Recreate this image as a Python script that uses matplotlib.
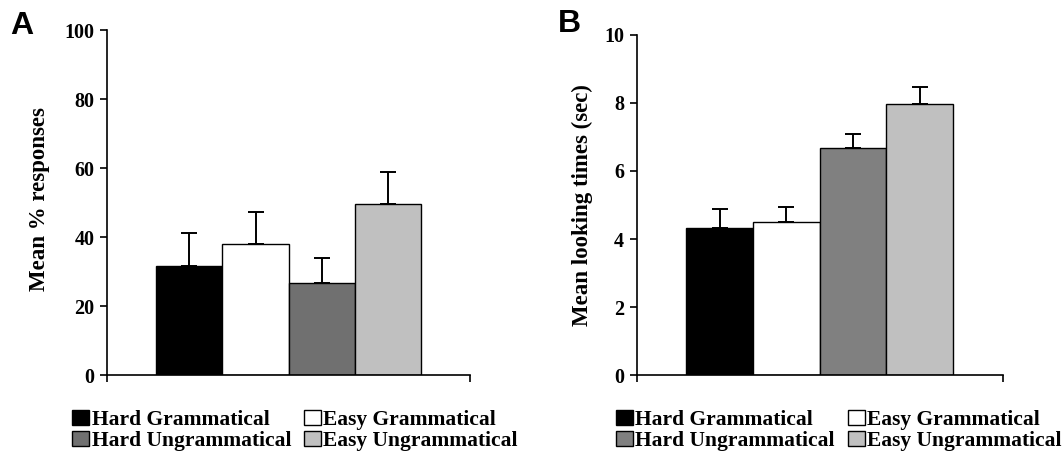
#!/usr/bin/env python3
import numpy as np
import matplotlib.pyplot as plt
from matplotlib.patches import Patch

# condition order as drawn left to right
conditions = ["Hard Grammatical", "Easy Grammatical", "Hard Ungrammatical", "Easy Ungrammatical"]

# panel A: mean % responses
resp_mean = [31.6, 38.1, 26.7, 49.7]
resp_err = [9.6, 9.2, 7.3, 9.1]

# panel B: mean looking times (sec)
look_mean = [4.33, 4.51, 6.67, 7.96]
look_err = [0.54, 0.43, 0.42, 0.50]

colors_a = ["#000000", "#ffffff", "#707070", "#c0c0c0"]
colors_b = ["#000000", "#ffffff", "#808080", "#c0c0c0"]

SERIF = ["Liberation Serif", "DejaVu Serif"]


def draw_panel(ax, means, errs, colors, ylim, yticks, ylabel):
    width = 0.182
    x = 0.5 + (np.arange(len(means)) - 1.5) * width
    bars = ax.bar(x, means, width=width, color=colors, edgecolor="black", linewidth=1.0, zorder=2)
    ax.errorbar(x, means, yerr=[np.zeros(len(errs)), errs], fmt="none", ecolor="black",
                elinewidth=1.4, capsize=6, capthick=1.4, zorder=1)
    ax.set_xlim(0, 1)
    ax.set_ylim(*ylim)
    ax.set_yticks(yticks)
    ax.set_yticklabels([str(t) for t in yticks], fontfamily=SERIF, fontweight="bold", fontsize=14.5)
    ax.set_xticks([0, 1])
    ax.set_xticklabels([])
    ax.tick_params(axis="both", direction="out", length=5, width=1.2)
    ax.tick_params(axis="y", pad=4)
    for side in ("top", "right"):
        ax.spines[side].set_visible(False)
    for side in ("left", "bottom"):
        ax.spines[side].set_linewidth(1.2)
    ax.set_ylabel(ylabel, fontfamily=SERIF, fontweight="bold", fontsize=16.5)
    return bars


fig = plt.figure(figsize=(10.62, 4.55), dpi=100)
ax_a = fig.add_axes([0.1008, 0.1758, 0.3418, 0.7582])
ax_b = fig.add_axes([0.5995, 0.1758, 0.3447, 0.7473])

draw_panel(ax_a, resp_mean, resp_err, colors_a, (0, 100), [0, 20, 40, 60, 80, 100], "Mean % responses")
draw_panel(ax_b, look_mean, look_err, colors_b, (0, 10), [0, 2, 4, 6, 8, 10], "Mean looking times (sec)")

ax_a.yaxis.set_label_coords(-0.158, 0.51)
ax_b.yaxis.set_label_coords(-0.12, 0.5)

fig.text(0.0095, 0.942, "A", fontsize=23, fontweight="bold", family="Liberation Sans", va="center")
fig.text(0.525, 0.947, "B", fontsize=23, fontweight="bold", family="Liberation Sans", va="center")

# legends: two columns, filled column-wise
order = [0, 2, 1, 3]
for colors, x0 in ((colors_a, 0.068), (colors_b, 0.580)):
    handles = [Patch(facecolor=colors[i], edgecolor="black", linewidth=1.0) for i in order]
    labels = [conditions[i] for i in order]
    fig.legend(handles, labels, loc="upper left", bbox_to_anchor=(x0, 0.099), ncol=2,
               frameon=False, handlelength=0.8, handleheight=0.7, handletextpad=0.1,
               columnspacing=0.6, labelspacing=0.05, borderaxespad=0, borderpad=0,
               prop={"family": SERIF, "weight": "bold", "size": 15.5})

fig.savefig("out.png", dpi=100)
